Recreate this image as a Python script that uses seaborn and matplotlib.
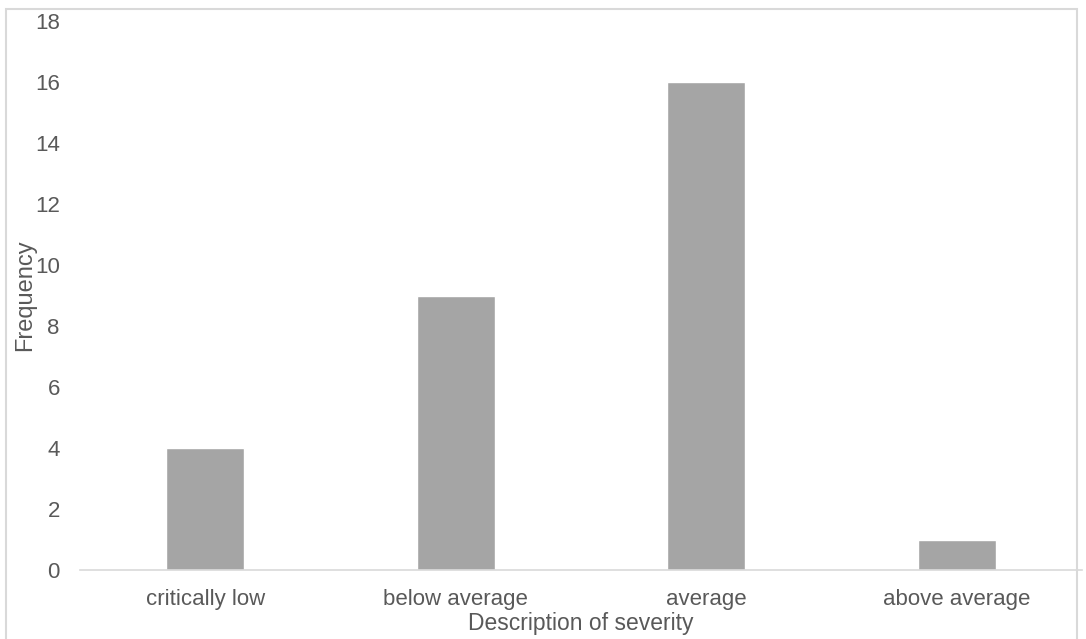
import matplotlib
matplotlib.use("Agg")
import matplotlib.pyplot as plt
import pandas as pd
import seaborn as sns
from matplotlib.patches import Rectangle

categories = ["critically low", "below average", "average", "above average"]
frequency = [4, 9, 16, 1]

sns.set_theme(style="white")
plt.rcParams["font.family"] = ["Liberation Sans", "DejaVu Sans"]

df = pd.DataFrame({"severity": categories, "freq": frequency})

fig = plt.figure(figsize=(10.86, 6.39), dpi=100)
ax = fig.add_axes([80 / 1086, 1 - 570 / 639, 1002 / 1086, 549 / 639])

sns.barplot(data=df, x="severity", y="freq", color="#A5A5A5", width=0.31,
            saturation=1, ax=ax)

ax.set_ylim(0, 18)
ax.set_yticks(range(0, 19, 2))
ax.set_xlim(-0.5, 3.5)
txt = "#595959"
ax.tick_params(axis="both", length=0, labelsize=16, colors=txt)
ax.tick_params(axis="x", pad=14)
ax.tick_params(axis="y", pad=14.5)
for s in ["top", "right", "left"]:
    ax.spines[s].set_visible(False)
ax.spines["bottom"].set_color("#D9D9D9")
ax.spines["bottom"].set_linewidth(1.2)

ax.set_xlabel("Description of severity", fontsize=16.5, color=txt, labelpad=1)
ax.set_ylabel("Frequency", fontsize=17, color=txt)
ax.yaxis.set_label_coords(-44 / 1002, 0.5)

fig.patches.append(Rectangle((6 / 1086, -0.05), 1071 / 1086, 1.05 - 9 / 639,
                             transform=fig.transFigure, fill=False,
                             edgecolor="#D9D9D9", linewidth=1.5))

fig.savefig("out.png", dpi=100)
